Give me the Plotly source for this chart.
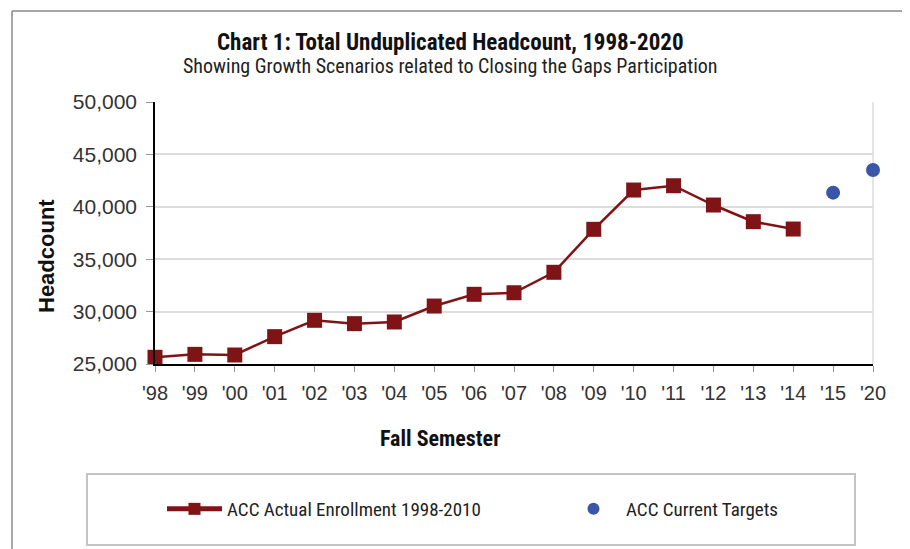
import plotly.graph_objects as go

categories = ["'98", "'99", "'00", "'01", "'02", "'03", "'04", "'05", "'06", "'07",
              "'08", "'09", "'10", "'11", "'12", "'13", "'14", "'15", "'20"]
actual_cats = categories[:17]
actual_values = [25640, 25920, 25860, 27610, 29170, 28850, 29010, 30530, 31650, 31800,
                 33750, 37850, 41600, 42010, 40170, 38580, 37880]
target_cats = ["'15", "'20"]
target_values = [41350, 43510]

OFF = 8  # default body margin of the html page
W, H = 910 - OFF, 549 - OFF
# plot area in screenshot pixels
L, R, T, B = 155, 873, 102, 364
pw, ph = R - L, B - T

def px(x):
    return (x - L) / pw

def py(y):
    return (B - y) / ph

NARROW = "Liberation Sans Narrow, Roboto Condensed, Arial Narrow, sans-serif"
SANS = "Liberation Sans, Arial, sans-serif"
RED = "#7f1416"
BLUE = "#3a56a8"

fig = go.Figure()
fig.add_trace(go.Scatter(
    x=actual_cats, y=actual_values, mode="lines+markers",
    name="ACC Actual Enrollment 1998-2010",
    line=dict(color=RED, width=2.5),
    marker=dict(symbol="square", size=15, color=RED),
    cliponaxis=False, legend="legend",
))
fig.add_trace(go.Scatter(
    x=target_cats, y=target_values, mode="markers",
    name="ACC Current Targets",
    marker=dict(symbol="circle", size=14, color=BLUE),
    cliponaxis=False, legend="legend2",
))

legend_common = dict(
    orientation="h", yanchor="middle", xanchor="left",
    font=dict(family=NARROW, size=19, color="#222"),
    bgcolor="rgba(0,0,0,0)", borderwidth=0, itemwidth=55,
    itemsizing="constant",
)

fig.update_layout(
    width=W, height=H,
    margin=dict(l=L - OFF, r=W - (R - OFF), t=T - OFF, b=H - (B - OFF)),
    paper_bgcolor="white", plot_bgcolor="white",
    showlegend=True,
    legend=dict(x=px(162), y=py(509), **legend_common),
    legend2=dict(x=px(561), y=py(509), **legend_common),
    xaxis=dict(
        type="category", categoryorder="array", categoryarray=categories,
        range=[0, 18], showgrid=False,
        showline=True, linecolor="black", linewidth=1.5,
        ticks="outside", ticklen=6, tickcolor="#999", tickwidth=1,
        tickfont=dict(family=SANS, size=20, color="#333"),
        ticklabelstandoff=4,
        fixedrange=True,
    ),
    yaxis=dict(
        range=[25000, 50000], dtick=5000, tickformat=",d",
        showgrid=True, gridcolor="#dcdcdc", gridwidth=1.5,
        showline=True, linecolor="black", linewidth=1.5,
        ticks="outside", ticklen=7, tickcolor="#999", tickwidth=1,
        tickfont=dict(family=SANS, size=21, color="#333"),
        ticklabelstandoff=5,
        zeroline=False, fixedrange=True,
    ),
    annotations=[
        dict(text="<b>Chart 1: Total Unduplicated Headcount, 1998-2020</b>",
             x=px(450), y=py(42), xref="paper", yref="paper", showarrow=False,
             xanchor="center", yanchor="middle",
             font=dict(family=NARROW, size=23, color="#111")),
        dict(text="Showing Growth Scenarios related to Closing the Gaps Participation",
             x=px(450), y=py(66), xref="paper", yref="paper", showarrow=False,
             xanchor="center", yanchor="middle",
             font=dict(family=NARROW, size=20, color="#222")),
        dict(text="<b>Headcount</b>", textangle=-90,
             x=px(46), y=py(256), xref="paper", yref="paper", showarrow=False,
             xanchor="center", yanchor="middle",
             font=dict(family=SANS, size=22, color="#111")),
        dict(text="<b>Fall Semester</b>",
             x=px(440), y=py(438), xref="paper", yref="paper", showarrow=False,
             xanchor="center", yanchor="middle",
             font=dict(family=NARROW, size=22, color="#111")),
    ],
    shapes=[
        # light right edge of plot area
        dict(type="line", xref="paper", yref="paper", x0=1, x1=1, y0=0, y1=1,
             line=dict(color="#dcdcdc", width=1.5), layer="below"),
        # legend box
        dict(type="rect", xref="paper", yref="paper",
             x0=px(87), x1=px(855), y0=py(545), y1=py(474),
             line=dict(color="#c4c4c4", width=2)),
        # outer border (left and top)
        dict(type="line", xref="paper", yref="paper",
             x0=px(12), x1=px(12), y0=py(11), y1=py(560),
             line=dict(color="#888", width=1.5)),
        dict(type="line", xref="paper", yref="paper",
             x0=px(12), x1=px(920), y0=py(11), y1=py(11),
             line=dict(color="#888", width=1.5)),
    ],
)

fig.write_html("out.html")
